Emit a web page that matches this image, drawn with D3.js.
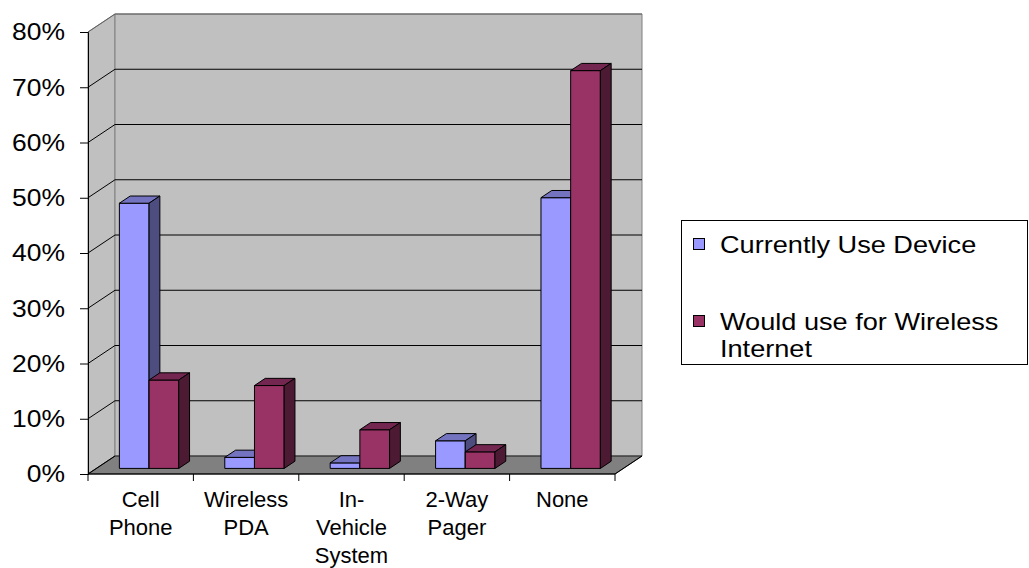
<!DOCTYPE html>
<html><head><meta charset="utf-8">
<script src="https://cdn.jsdelivr.net/npm/d3@7"></script>
<style>body{margin:0;background:#fff}svg text{font-family:"Liberation Sans",Arial,sans-serif;fill:#000}</style>
</head><body>
<svg id="chart" width="1029" height="568"></svg>
<script>
// Device usage survey: share of respondents per device
const categories = ["Cell Phone", "Wireless PDA", "In-Vehicle System", "2-Way Pager", "None"];
const categoryLines = [["Cell", "Phone"], ["Wireless", "PDA"], ["In-", "Vehicle", "System"], ["2-Way", "Pager"], ["None"]];
const currentlyUse = [48, 2, 1, 5, 49];
const wouldUse = [16, 15, 7, 3, 72];
const seriesNames = ["Currently Use Device", "Would use for Wireless Internet"];
const yTicks = [0, 10, 20, 30, 40, 50, 60, 70, 80];

const svg = d3.select("#chart");

// 3D projection: depth z in [0,1] shifts right and up
const DX = 27, DY = -18;
const Z0 = 0.31, Z1 = 0.71;
const proj = (x, y, z) => [x + z * DX, y + z * DY];

const x = d3.scaleBand().domain(categories).range([88, 615]).padding(0);
const xs = d3.scaleBand().domain([0, 1]).range([0, x.bandwidth()]).paddingInner(0).paddingOuter(0.775);
const y = d3.scaleLinear().domain([0, 80]).range([474, 32]);

const series = [
  { values: currentlyUse, front: "#9999FF", top: "#7373C0", side: "#4D4D80" },
  { values: wouldUse, front: "#993366", top: "#732650", side: "#4D1A33" }
];

const poly = pts => pts.map(p => p.join(",")).join(" ");

// Walls and floor
const x0 = x.range()[0], x1 = x.range()[1], yb = y(0), yt = y(80);
svg.append("polygon").attr("points", poly([proj(x0, yt, 0), proj(x0, yt, 1), proj(x0, yb, 1), proj(x0, yb, 0)]))
  .attr("fill", "#C0C0C0").attr("stroke", "#808080");
svg.append("polygon").attr("points", poly([proj(x0, yt, 1), proj(x1, yt, 1), proj(x1, yb, 1), proj(x0, yb, 1)]))
  .attr("fill", "#C0C0C0").attr("stroke", "#808080");
svg.append("polygon").attr("points", poly([proj(x0, yb, 0), proj(x1, yb, 0), proj(x1, yb, 1), proj(x0, yb, 1)]))
  .attr("fill", "#808080").attr("stroke", "#000").attr("stroke-width", 0.8);

// Gridlines on side and back walls
yTicks.filter(t => t > 0).forEach(t => {
  const a = proj(x0, y(t), 0), b = proj(x0, y(t), 1), c = proj(x1, y(t), 1);
  svg.append("polyline").attr("points", poly([a, b, c]))
    .attr("fill", "none").attr("stroke", t === 80 ? "#606060" : "#000").attr("stroke-width", 1);
});
svg.append("line").attr("x1", proj(x0, yb, 0)[0]).attr("y1", yb).attr("x2", proj(x0, yb, 1)[0]).attr("y2", proj(x0, yb, 1)[1])
  .attr("stroke", "#000");

// Columns
categories.forEach((cat, i) => {
  series.forEach((s, k) => {
    const v = s.values[i];
    const l = x(cat) + xs(k), r = l + xs.bandwidth();
    const b = y(0), t = y(v);
    const g = svg.append("g").attr("stroke", "#000").attr("stroke-width", 1).attr("stroke-linejoin", "round");
    g.append("polygon").attr("points", poly([proj(l, t, Z0), proj(r, t, Z0), proj(r, b, Z0), proj(l, b, Z0)])).attr("fill", s.front);
    g.append("polygon").attr("points", poly([proj(l, t, Z0), proj(l, t, Z1), proj(r, t, Z1), proj(r, t, Z0)])).attr("fill", s.top);
    g.append("polygon").attr("points", poly([proj(r, t, Z0), proj(r, t, Z1), proj(r, b, Z1), proj(r, b, Z0)])).attr("fill", s.side);
  });
});

// Value axis (labels slightly widened)
const yAxis = d3.axisLeft(y).tickValues(yTicks).tickSize(8).tickFormat("");
const ya = svg.append("g").attr("transform", `translate(${x0},0)`).call(yAxis);
ya.select(".domain").attr("stroke", "#000");
ya.selectAll(".tick line").attr("stroke", "#000");
svg.selectAll(".ylabel").data(yTicks).join("g")
  .attr("transform", d => `translate(65,${y(d)}) scale(1.15,1)`)
  .append("text").attr("text-anchor", "end").attr("dy", "0.36em").attr("font-size", 23)
  .text(d => d + "%");

// Category axis
svg.append("line").attr("x1", x0).attr("x2", x1).attr("y1", yb).attr("y2", yb).attr("stroke", "#000");
svg.append("line").attr("x1", x1).attr("y1", yb).attr("x2", proj(x1, yb, 1)[0]).attr("y2", proj(x1, yb, 1)[1]).attr("stroke", "#000");
const boundaries = categories.map(c => x(c)).concat([x1]);
svg.selectAll(".ctick").data(boundaries).join("line")
  .attr("x1", d => d).attr("x2", d => d).attr("y1", yb).attr("y2", yb + 7).attr("stroke", "#000");
categories.forEach((cat, i) => {
  const cx = x(cat) + x.bandwidth() / 2;
  const txt = svg.append("text").attr("text-anchor", "middle").attr("font-size", 22);
  categoryLines[i].forEach((line, j) => {
    txt.append("tspan").attr("x", cx).attr("y", 507 + j * 28).text(line);
  });
});

// Legend
const lg = svg.append("g");
lg.append("rect").attr("x", 681.5).attr("y", 220.5).attr("width", 346).attr("height", 144)
  .attr("fill", "#fff").attr("stroke", "#000");
const legendRows = [[seriesNames[0]], ["Would use for Wireless", "Internet"]];
const legendY = [253, 330];
series.forEach((s, k) => {
  lg.append("rect").attr("x", 693.5).attr("y", legendY[k] - 14.5).attr("width", 11).attr("height", 11)
    .attr("fill", s.front).attr("stroke", "#000");
  const t = lg.append("g").attr("transform", `translate(720,${legendY[k]}) scale(1.18,1)`)
    .append("text").attr("font-size", 23);
  legendRows[k].forEach((line, j) => t.append("tspan").attr("x", 0).attr("y", j * 27).text(line));
});
</script>
</body></html>
